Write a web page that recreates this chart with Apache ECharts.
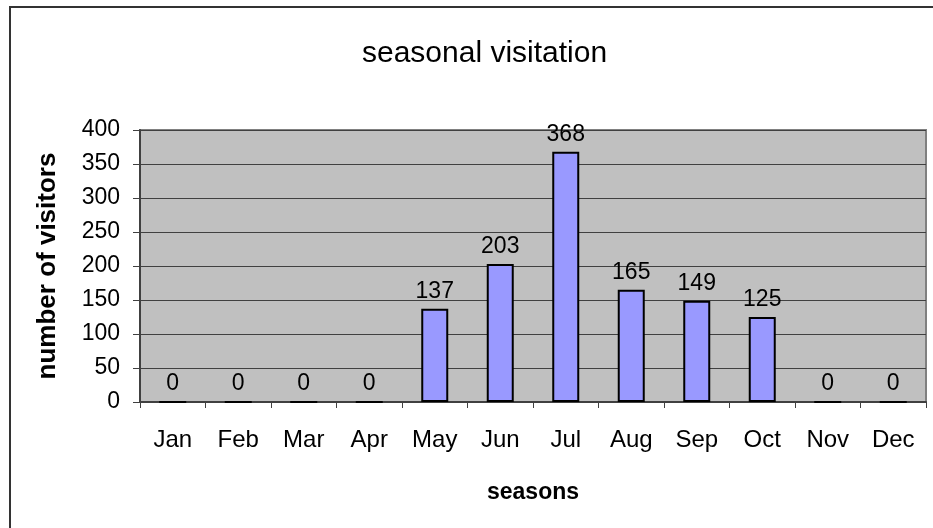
<!DOCTYPE html>
<html>
<head>
<meta charset="utf-8">
<script src="https://cdn.jsdelivr.net/npm/echarts@6/dist/echarts.min.js"></script>
<style>
  html, body { margin: 0; padding: 0; background: #fff; }
  #chart { width: 933px; height: 528px; }
</style>
</head>
<body>
<div id="chart"></div>
<script>
  // chart data
  var months = ['Jan', 'Feb', 'Mar', 'Apr', 'May', 'Jun', 'Jul', 'Aug', 'Sep', 'Oct', 'Nov', 'Dec']
  var visitors = [0, 0, 0, 0, 137, 203, 368, 165, 149, 125, 0, 0]
  var yTicks = [0, 50, 100, 150, 200, 250, 300, 350, 400]

  var font = 'Arial, "Liberation Sans", sans-serif'
  var myChart = echarts.init(document.getElementById('chart'))
  var option = {
    animation: false,
    backgroundColor: '#fff',
    textStyle: { fontFamily: font },
    title: {
      text: 'seasonal visitation',
      left: 357,
      top: 34,
      textStyle: { fontSize: 30, fontWeight: 'normal', color: '#000', fontFamily: font }
    },
    graphic: [{
      type: 'rect',
      shape: { x: 10, y: 7, width: 940, height: 540 },
      style: { fill: 'none', stroke: '#333', lineWidth: 2 },
      silent: true
    }],
    grid: {
      left: 140,
      top: 130,
      right: 7,
      bottom: 126,
      show: true,
      backgroundColor: '#C0C0C0',
      borderColor: '#808080',
      borderWidth: 2
    },
    xAxis: {
      type: 'category',
      data: months,
      name: 'seasons',
      nameLocation: 'middle',
      nameGap: 79,
      nameTextStyle: { fontSize: 23, fontWeight: 'bold', color: '#000', verticalAlign: 'top' },
      axisLine: { lineStyle: { color: '#404040', width: 2 } },
      axisTick: { show: true, length: 6, lineStyle: { color: '#404040' } },
      axisLabel: { margin: 26, fontSize: 24, color: '#000' }
    },
    yAxis: {
      type: 'value',
      min: yTicks[0],
      max: yTicks[yTicks.length - 1],
      interval: 50,
      name: 'number of visitors',
      nameLocation: 'middle',
      nameGap: 79,
      nameTextStyle: { fontSize: 26, fontWeight: 'bold', color: '#000' },
      axisLine: { show: true, lineStyle: { color: '#404040', width: 2 } },
      axisTick: { show: true, length: 7, lineStyle: { color: '#404040' } },
      axisLabel: { margin: 20, fontSize: 23, color: '#000' },
      splitLine: { lineStyle: { color: '#404040', width: 1 } }
    },
    series: [{
      type: 'bar',
      data: visitors,
      barWidth: 27,
      itemStyle: { color: '#9999FF', borderColor: '#000', borderWidth: 2 },
      label: {
        show: true,
        position: 'top',
        distance: 6,
        fontSize: 23,
        color: '#000'
      }
    }]
  }
  myChart.setOption(option)
</script>
</body>
</html>
